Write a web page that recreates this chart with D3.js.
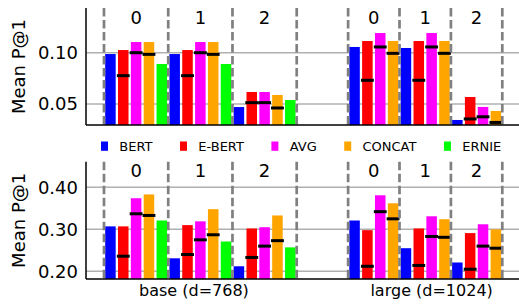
<!DOCTYPE html>
<html>
<head>
<meta charset="utf-8">
<script src="https://cdn.jsdelivr.net/npm/d3@7"></script>
<style>
  body { margin: 0; background: #fff; }
  svg { font-family: "DejaVu Sans", sans-serif; }
</style>
</head>
<body>
<svg id="chart" width="519" height="304"></svg>
<script>
// series and groups
var methods = ["BERT", "E-BERT", "AVG", "CONCAT", "ERNIE"];
var colors = ["#0000ff", "#ff0000", "#ff00ff", "#ffa500", "#00ff00"];
var groupLabels = ["0", "1", "2"];
var models = ["base (d=768)", "large (d=1024)"];

// top panel: bar heights and black marks (null = no mark)
var topBase = [
  [0.0987, 0.1026, 0.1104, 0.1104, 0.0890],
  [0.0987, 0.1026, 0.1104, 0.1104, 0.0890],
  [0.0470, 0.0617, 0.0617, 0.0588, 0.0539]
];
var topBaseMarks = [
  [null, 0.0776, 0.1000, 0.0984, null],
  [null, 0.0776, 0.1000, 0.0984, null],
  [null, 0.0513, 0.0513, 0.0461, null]
];
var topLarge = [
  [0.1056, 0.1114, 0.1192, 0.1114],
  [0.1046, 0.1114, 0.1192, 0.1114],
  [0.0344, 0.0568, 0.0471, 0.0432]
];
var topLargeMarks = [
  [null, 0.0731, 0.1056, 0.0994],
  [null, 0.0731, 0.1056, 0.0994],
  [null, 0.0354, 0.0375, 0.0320]
];

// bottom panel
var botBase = [
  [0.307, 0.307, 0.374, 0.383, 0.321],
  [0.231, 0.310, 0.319, 0.348, 0.271],
  [0.212, 0.302, 0.305, 0.333, 0.257]
];
var botBaseMarks = [
  [null, 0.236, 0.337, 0.333, null],
  [null, 0.240, 0.275, 0.287, null],
  [null, 0.233, 0.260, 0.273, null]
];
var botLarge = [
  [0.321, 0.298, 0.381, 0.362],
  [0.255, 0.302, 0.331, 0.324],
  [0.221, 0.291, 0.312, 0.300]
];
var botLargeMarks = [
  [null, 0.212, 0.342, 0.325],
  [null, 0.214, 0.283, 0.281],
  [null, 0.205, 0.260, 0.255]
];

var topTicks = [0.05, 0.10];
var botTicks = [0.20, 0.30, 0.40];

var svg = d3.select("#chart");

// one slot per bar: base groups take 5 slots, large groups 4, with a 4 slot gap
var largeStart = 19;
var x = d3.scaleLinear().domain([-1.9, 31.8]).range([86, 519]);
var slot = x(1) - x(0);

function buildItems(baseV, baseM, largeV, largeM) {
  var items = [];
  baseV.forEach(function(vals, g) {
    vals.forEach(function(v, i) {
      items.push({ pos: g * 5 + i, v: v, m: baseM[g][i], c: colors[i] });
    });
  });
  largeV.forEach(function(vals, g) {
    vals.forEach(function(v, i) {
      items.push({ pos: largeStart + g * 4 + i, v: v, m: largeM[g][i], c: colors[i] });
    });
  });
  return items;
}

var groupCenters = [];
var separators = [-0.5];
groupLabels.forEach(function(l, g) {
  groupCenters.push({ label: l, pos: g * 5 + 2 });
  separators.push(g * 5 + 4.5);
});
separators.push(largeStart - 0.5);
groupLabels.forEach(function(l, g) {
  groupCenters.push({ label: l, pos: largeStart + g * 4 + 1.5 });
  separators.push(largeStart + g * 4 + 3.5);
});

function drawPanel(items, domain, top, bottom, ticks, labelY) {
  var y = d3.scaleLinear().domain(domain).range([bottom, top]);
  var g = svg.append("g");

  // gridlines behind bars
  g.selectAll(".grid").data(ticks).enter().append("line")
    .attr("x1", 86).attr("x2", 519)
    .attr("y1", function(d) { return y(d); })
    .attr("y2", function(d) { return y(d); })
    .attr("stroke", "#b0b0b0").attr("stroke-width", 1.6);

  g.selectAll(".bar").data(items).enter().append("rect")
    .attr("x", function(d) { return x(d.pos) - slot * 0.41; })
    .attr("width", slot * 0.82)
    .attr("y", function(d) { return y(d.v); })
    .attr("height", function(d) { return bottom - y(d.v); })
    .attr("fill", function(d) { return d.c; });

  g.selectAll(".mark").data(items.filter(function(d) { return d.m !== null; }))
    .enter().append("rect")
    .attr("x", function(d) { return x(d.pos) - slot * 0.5; })
    .attr("width", slot)
    .attr("y", function(d) { return y(d.m) - 1.5; })
    .attr("height", 3)
    .attr("fill", "#000");

  g.selectAll(".sep").data(separators).enter().append("line")
    .attr("x1", function(d) { return x(d); })
    .attr("x2", function(d) { return x(d); })
    .attr("y1", top).attr("y2", bottom)
    .attr("stroke", "#808080").attr("stroke-width", 2.7)
    .attr("stroke-dasharray", "8.5,3.5");

  g.selectAll(".glabel").data(groupCenters).enter().append("text")
    .attr("x", function(d) { return x(d.pos); })
    .attr("y", labelY)
    .attr("text-anchor", "middle")
    .attr("font-size", 18)
    .text(function(d) { return d.label; });

  var axis = d3.axisLeft(y).tickValues(ticks).tickSize(0).tickPadding(8)
    .tickFormat(d3.format(".2f"));
  var ag = g.append("g").attr("transform", "translate(86,0)").call(axis);
  ag.select(".domain").remove();
  ag.selectAll("text").attr("font-size", 18).attr("fill", "#000")
    .attr("font-family", "DejaVu Sans, sans-serif");

  // spines
  g.append("line").attr("x1", 86).attr("x2", 86).attr("y1", top).attr("y2", bottom)
    .attr("stroke", "#000").attr("stroke-width", 1.5);
  g.append("line").attr("x1", 86).attr("x2", 519).attr("y1", bottom).attr("y2", bottom)
    .attr("stroke", "#000").attr("stroke-width", 1.5);

  g.append("text")
    .attr("transform", "translate(25," + (top + bottom) / 2 + ") rotate(-90)")
    .attr("text-anchor", "middle")
    .attr("font-size", 18)
    .text("Mean P@1");
}

drawPanel(buildItems(topBase, topBaseMarks, topLarge, topLargeMarks),
  [0.0295, 0.1436], 8, 125, topTicks, 24);
drawPanel(buildItems(botBase, botBaseMarks, botLarge, botLargeMarks),
  [0.1817, 0.461], 161.7, 279, botTicks, 177);

// model labels under the bottom panel
var modelPos = [6.5, 25];
svg.selectAll(".model").data(models).enter().append("text")
  .attr("x", function(d, i) { return x(modelPos[i]); })
  .attr("y", 296)
  .attr("text-anchor", "middle")
  .attr("font-size", 16)
  .text(function(d) { return d; });

// legend
var lx = 101;
methods.forEach(function(m, i) {
  svg.append("rect").attr("x", lx).attr("y", 141.5).attr("width", 7).attr("height", 9.3)
    .attr("fill", colors[i]);
  var t = svg.append("text").attr("x", lx + 18.3).attr("y", 150.8)
    .attr("font-size", 13).text(m);
  lx = lx + 18.3 + t.node().getComputedTextLength() + 27.5;
});
</script>
</body>
</html>
